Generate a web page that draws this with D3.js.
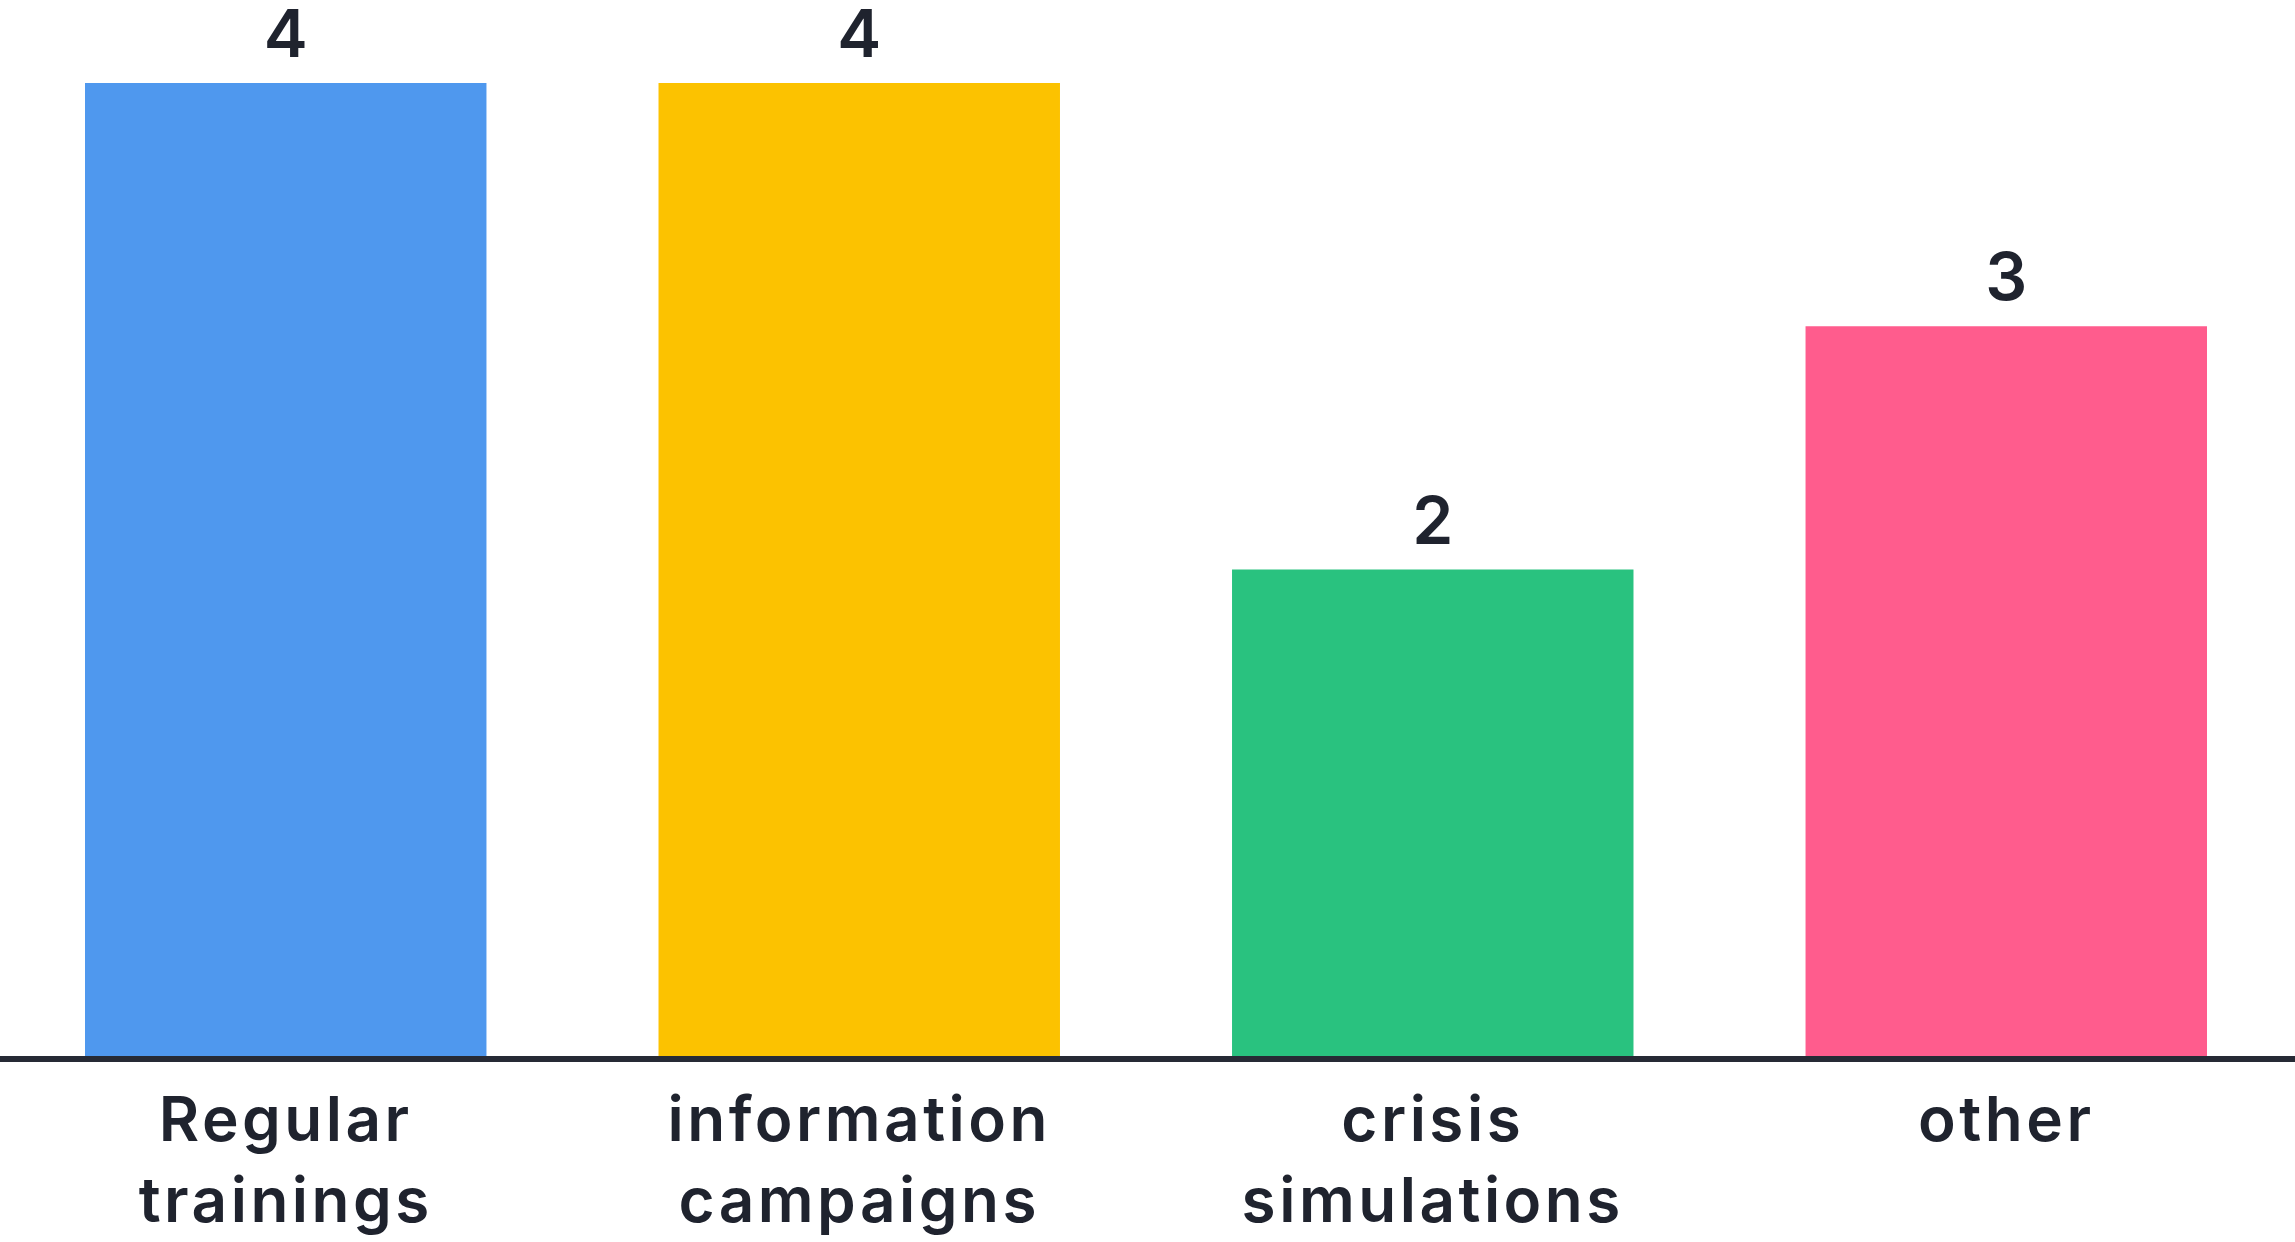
<!DOCTYPE html>
<html>
<head>
<meta charset="utf-8">
<script src="https://cdn.jsdelivr.net/npm/d3@7"></script>
<style>
  html, body { margin: 0; padding: 0; background: #fff; }
  svg { display: block; }
</style>
</head>
<body>
<div id="chart"></div>
<script>
// Chart data
const categories = ["Regular trainings", "information campaigns", "crisis simulations", "other"];
const labelLines = [["Regular", "trainings"], ["information", "campaigns"], ["crisis", "simulations"], ["other"]];
const values = [4, 4, 2, 3];
const colors = ["#4f98ee", "#fcc200", "#29c27f", "#ff5c8d"];

const width = 2295;
const height = 1242;
const baseline = 1056;

const svg = d3.select("#chart").append("svg")
  .attr("width", width)
  .attr("height", height);

// Scales
const x = d3.scaleBand()
  .domain(categories)
  .range([85, 2207])
  .paddingInner(0.3)
  .paddingOuter(0);

const y = d3.scaleLinear()
  .domain([0, 4])
  .range([baseline, 83]);

// Bars
svg.selectAll("rect.bar")
  .data(values)
  .enter()
  .append("rect")
  .attr("class", "bar")
  .attr("x", (d, i) => x(categories[i]))
  .attr("y", d => y(d))
  .attr("width", x.bandwidth())
  .attr("height", d => y(0) - y(d))
  .attr("fill", (d, i) => colors[i]);

// Value labels
svg.selectAll("text.value")
  .data(values)
  .enter()
  .append("text")
  .attr("class", "value")
  .attr("x", (d, i) => x(categories[i]) + x.bandwidth() / 2)
  .attr("y", d => y(d) - 26)
  .attr("text-anchor", "middle")
  .style("font-family", "Inter, sans-serif")
  .style("font-weight", 600)
  .style("font-size", "66px")
  .style("fill", "#1f232e")
  .text(d => d);

// Baseline axis
svg.append("line")
  .attr("x1", 0)
  .attr("x2", width)
  .attr("y1", baseline + 3)
  .attr("y2", baseline + 3)
  .attr("stroke", "#262a35")
  .attr("stroke-width", 6);

// Category labels
const cat = svg.selectAll("text.cat")
  .data(categories)
  .enter()
  .append("text")
  .attr("class", "cat")
  .attr("x", d => x(d) + x.bandwidth() / 2)
  .attr("y", 1141)
  .attr("text-anchor", "middle")
  .style("font-family", "Inter, sans-serif")
  .style("font-weight", 600)
  .style("font-size", "62px")
  .style("letter-spacing", "3.5px")
  .style("fill", "#1f232e");

cat.selectAll("tspan")
  .data((d, i) => labelLines[i])
  .enter()
  .append("tspan")
  .attr("x", function () { return d3.select(this.parentNode).attr("x"); })
  .attr("dy", (d, i) => i === 0 ? 0 : 81)
  .text(d => d);
</script>
</body>
</html>
